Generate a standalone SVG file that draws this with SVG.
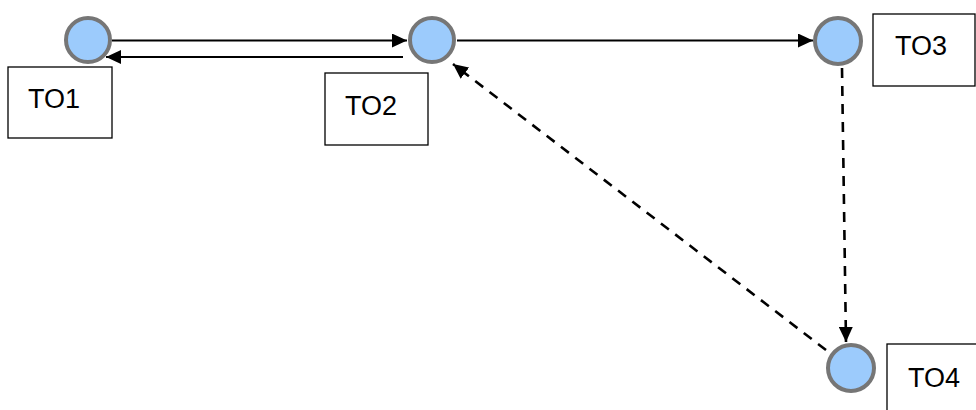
<svg xmlns="http://www.w3.org/2000/svg" width="976" height="410" viewBox="0 0 976 410">
<style>
.node{fill:#9ccbfc;stroke:#767676;stroke-width:4}
.box{fill:#fff;stroke:#000;stroke-width:1.3}
.lbl{font-family:"Liberation Sans",Arial,sans-serif;font-size:27px;fill:#000}
.edge{stroke:#000;stroke-width:2.2;fill:none}
.dash{stroke-dasharray:10 8;stroke-width:2.6}
</style>
<defs>
<marker id="ah" markerWidth="16" markerHeight="14" refX="15" refY="7" orient="auto" markerUnits="userSpaceOnUse">
<path d="M0,0 L15,7 L0,14 Z" fill="#000"/>
</marker>
</defs>
<rect width="976" height="410" fill="#fff"/>
<g id="connectors">
<line class="edge" x1="112" y1="40.5" x2="407" y2="40.5" marker-end="url(#ah)"/>
<line class="edge" x1="403" y1="57" x2="106" y2="57" marker-end="url(#ah)"/>
<line class="edge" x1="457" y1="40.5" x2="813" y2="40.5" marker-end="url(#ah)"/>
<line class="edge dash" x1="842" y1="68" x2="846" y2="342" marker-end="url(#ah)"/>
<line class="edge dash" x1="826" y1="350" x2="453" y2="64" marker-end="url(#ah)"/>
</g>
<g id="TO1">
<rect class="box" x="8" y="67" width="104" height="71"/>
<circle class="node" cx="88" cy="40" r="22"/>
<text class="lbl" x="28" y="108">TO1</text>
</g>
<g id="TO2">
<rect class="box" x="325" y="73" width="103" height="72"/>
<circle class="node" cx="432" cy="40" r="22"/>
<text class="lbl" x="345" y="115">TO2</text>
</g>
<g id="TO3">
<circle class="node" cx="838" cy="41" r="23"/>
<rect class="box" x="873" y="14" width="102" height="72"/>
<text class="lbl" x="895" y="55">TO3</text>
</g>
<g id="TO4">
<circle class="node" cx="851" cy="368" r="23"/>
<rect class="box" x="887" y="344" width="100" height="80"/>
<text class="lbl" x="908" y="387">TO4</text>
</g>
</svg>
